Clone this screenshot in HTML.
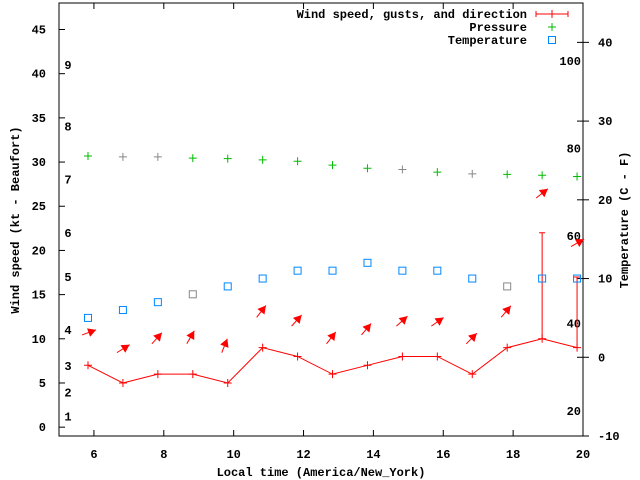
<!DOCTYPE html>
<html><head><meta charset="utf-8"><style>
body{margin:0;background:#fff}
svg{display:block}
text{font-family:"Liberation Mono",monospace;font-size:12px;font-weight:bold;fill:#000}
</style></head><body>
<svg id="c" width="640" height="480" xmlns="http://www.w3.org/2000/svg"></svg>
<script>
const hours=[5.83,6.83,7.83,8.83,9.83,10.83,11.83,12.83,13.83,14.83,15.83,16.83,17.83,18.83,19.83];
const windSpeed=[7,5,6,6,5,9,8,6,7,8,8,6,9,10,9];
const gust=[null,null,null,null,null,null,null,null,null,null,null,null,null,22,17];
const windDirArrowDeg=[20,32,48,60,68,52,48,52,50,42,35,45,50,38,30];
const arrowLevel=[11,9,10,10,9,13,12,10,11,12,12,10,13,26.5,21];
const pressure=[78.3,78.1,78.1,77.8,77.7,77.4,77.1,76.2,75.5,75.2,74.6,74.2,74.1,73.9,73.6];
const pressureGrey=[0,1,1,0,0,0,0,0,0,1,0,1,0,0,0];
const temperature=[5,6,7,8,9,10,11,11,12,11,11,10,9,10,10];
const tempGrey=[0,0,0,1,0,0,0,0,0,0,0,0,1,0,0];
const xTicks=[6,8,10,12,14,16,18,20];
const yTicks=[0,5,10,15,20,25,30,35,40,45];
const y2Ticks=[-10,0,10,20,30,40];
const beaufort=[[1,1.2],[2,3.9],[3,6.9],[4,11],[5,17],[6,22],[7,28],[8,34],[9,41]];
const pressLabels=[20,40,60,80,100];

const L=59,R=583,T=3,B=436;
const X=v=>L+(v-5)*(R-L)/15;
const Y=v=>B-(v+1)*(B-T)/49;
const Y2=v=>B-(v+10)*(B-T)/55;
const YP=v=>411-(v-20)*(411-61)/80;
const svg=document.getElementById('c');
const NS='http://www.w3.org/2000/svg';
function el(t,a,name,parent){const e=document.createElementNS(NS,t);for(const k in a)e.setAttribute(k,a[k]);


(parent||svg).appendChild(e);return e;}
function txt(x,y,s,anchor,name,extra){const e=el('text',Object.assign({x:x,y:y,'text-anchor':anchor||'middle'},extra||{}),name);e.textContent=s;return e;}
function plus(x,y,c,name){el('path',{d:`M${x-4} ${y}h8M${x} ${y-4}v8`,stroke:c,'stroke-width':1,fill:'none'},name);}

el('rect',{x:L,y:T,width:R-L,height:B-T,fill:'none',stroke:'#000','stroke-width':1},'plot-frame');
xTicks.forEach(v=>{const x=X(v);
 el('path',{d:`M${x} ${B}v-6M${x} ${T}v6`,stroke:'#000'},'x-tick');
 txt(x,458,v,'middle','x-tick-label');});
yTicks.forEach(v=>{const y=Y(v);
 el('path',{d:`M${L} ${y}h6`,stroke:'#000'},'y-tick');
 txt(46,y+4,v,'end','y-tick-label');});
y2Ticks.forEach(v=>{const y=Y2(v);
 el('path',{d:`M${R-6} ${y}h12`,stroke:'#000'},'y2-tick');
 txt(598,y+4,v,'start','y2-tick-label');});
beaufort.forEach(b=>txt(68,Y(b[1])+4,b[0],'middle','beaufort-label'));
pressLabels.forEach(p=>txt(581,YP(p)+4,p,'end','pressure-scale-label'));
txt(321,476,'Local time (America/New_York)','middle','x-axis-title');
txt(19,220,'Wind speed (kt - Beaufort)','middle','y-axis-title',{transform:'rotate(-90 19 220)'});
txt(628,220,'Temperature (C - F)','middle','y2-axis-title',{transform:'rotate(-90 628 220)'});

el('polyline',{points:hours.map((h,i)=>X(h)+','+Y(windSpeed[i])).join(' '),fill:'none',stroke:'#f00'},'wind-speed-line');
hours.forEach((h,i)=>{plus(X(h),Y(windSpeed[i]),'#f00','wind-speed-point');
 if(gust[i]!=null){const x=X(h);el('path',{d:`M${x} ${Y(windSpeed[i])}V${Y(gust[i])}M${x-3} ${Y(gust[i])}h6`,stroke:'#f00'},'gust-bar');}
 const a=windDirArrowDeg[i]*Math.PI/180,len=15;const x1=X(h)-6,y1=Y(arrowLevel[i])+5;
 const x2=x1+len*Math.cos(a),y2=y1-len*Math.sin(a);
 el('line',{x1:x1,y1:y1,x2:x2,y2:y2,stroke:'#f00'},'wind-direction-arrow');
 const ux=Math.cos(a),uy=-Math.sin(a),hx=x2-ux*8,hy=y2-uy*8;
 el('polygon',{points:`${x2},${y2} ${hx-uy*4.5},${hy+ux*4.5} ${hx+uy*4.5},${hy-ux*4.5}`,fill:'#f00'},'wind-direction-arrowhead');
});
hours.forEach((h,i)=>plus(X(h),YP(pressure[i]),pressureGrey[i]?'#888':'#0b0','pressure-point'));
hours.forEach((h,i)=>el('rect',{x:X(h)-3.5,y:Y2(temperature[i])-3.5,width:7,height:7,fill:'none',stroke:tempGrey[i]?'#888':'#08f'},'temperature-point'));

txt(527,18,'Wind speed, gusts, and direction','end','legend-wind-label');
el('path',{d:`M536 14h32M536 11v6M568 11v6M552 10v8`,stroke:'#f00'},'legend-wind-key');
txt(527,31,'Pressure','end','legend-pressure-label');
plus(552,27,'#0b0','legend-pressure-key');
txt(527,44,'Temperature','end','legend-temperature-label');
el('rect',{x:548.5,y:36.5,width:7,height:7,fill:'none',stroke:'#08f'},'legend-temperature-key');
</script>
</body></html>
